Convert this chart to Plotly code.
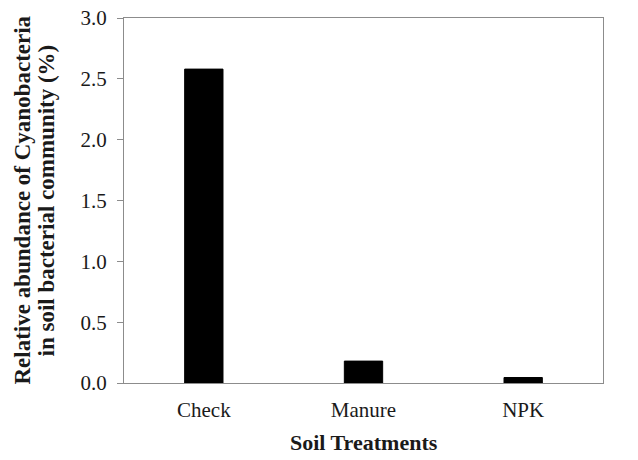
import plotly.graph_objs as go

treatments = ["Check", "Manure", "NPK"]
abundance = [2.58, 0.18, 0.045]
y_ticks = [0.0, 0.5, 1.0, 1.5, 2.0, 2.5, 3.0]

x_title = "Soil Treatments"
y_title_lines = ["Relative abundance of Cyanobacteria", "in soil bacterial community (%)"]

serif = "Liberation Serif, Times New Roman, serif"

fig = go.Figure(
    go.Bar(
        x=treatments,
        y=abundance,
        width=0.24,
        marker=dict(color="black", line=dict(color="black", width=1)),
    )
)

# plot area spans 124..603 px wide, 18..383 px tall
fig.update_layout(
    width=638,
    height=460,
    margin=dict(l=124, r=35, t=18, b=77),
    paper_bgcolor="white",
    plot_bgcolor="white",
    showlegend=False,
    font=dict(family=serif, size=21, color="#1a1a1a"),
    xaxis=dict(
        automargin=False,
        showline=True,
        linecolor="#8c8c8c",
        linewidth=1,
        mirror=True,
        ticks="",
        showgrid=False,
        ticklabelstandoff=8,
        tickfont=dict(size=21),
    ),
    yaxis=dict(
        automargin=False,
        range=[0, 3.0],
        tickvals=y_ticks,
        tickformat=".1f",
        showline=True,
        linecolor="#8c8c8c",
        linewidth=1,
        mirror=True,
        ticks="outside",
        ticklen=6,
        tickcolor="#8c8c8c",
        ticklabelstandoff=6,
        showgrid=False,
        zeroline=False,
        tickfont=dict(size=21),
    ),
)

# titles as annotations so each line can be placed like the original
fig.add_annotation(
    text="<b>%s</b>" % x_title,
    xref="paper", yref="paper",
    x=0.5, y=-0.162,
    xanchor="center", yanchor="middle",
    showarrow=False,
    font=dict(size=22),
)
for i, line in enumerate(y_title_lines):
    fig.add_annotation(
        text="<b>%s</b>" % line,
        xref="paper", yref="paper",
        x=(22 + 24 * i - 124) / 479.0, y=0.5,
        xanchor="center", yanchor="middle",
        textangle=-90,
        showarrow=False,
        font=dict(size=23),
    )

# drop the default body margin so the figure sits at the page corner
fig.write_html(
    "out.html",
    config={"displayModeBar": False},
    post_script="document.body.style.margin='0';",
)
